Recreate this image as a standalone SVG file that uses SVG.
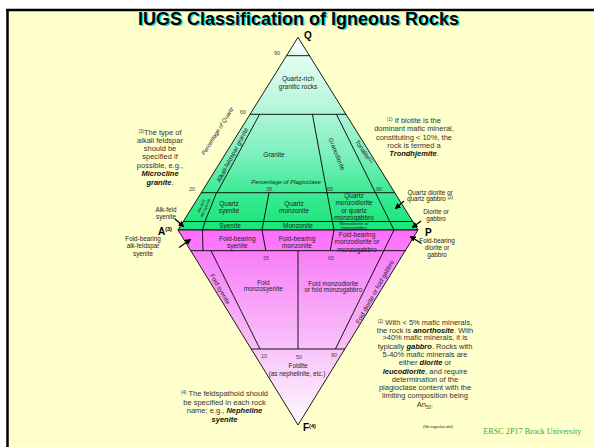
<svg xmlns="http://www.w3.org/2000/svg" width="594" height="447" viewBox="0 0 594 447">
<defs>
<linearGradient id="gq" x1="0" y1="37" x2="0" y2="230" gradientUnits="userSpaceOnUse">
<stop offset="0" stop-color="#f6fffc"/>
<stop offset="0.35" stop-color="#b8f6dc"/>
<stop offset="0.6" stop-color="#7ef0bf"/>
<stop offset="0.8" stop-color="#3eea94"/>
<stop offset="1" stop-color="#16e679"/>
</linearGradient>
<linearGradient id="gf" x1="0" y1="230" x2="0" y2="425" gradientUnits="userSpaceOnUse">
<stop offset="0" stop-color="#ff6cff"/>
<stop offset="0.15" stop-color="#f884f8"/>
<stop offset="0.6" stop-color="#f8c2f8"/>
<stop offset="1" stop-color="#fffaff"/>
</linearGradient>
<marker id="ah" markerWidth="6" markerHeight="6" refX="5" refY="3" orient="auto" markerUnits="userSpaceOnUse">
<path d="M0,0 L6,3 L0,6 z" fill="#000"/>
</marker>
</defs>
<style>
text{font-family:"Liberation Sans",Arial,sans-serif;fill:#222}
.l{font-size:6.5px;text-anchor:middle}
.m{font-size:6.3px;text-anchor:middle}
.n{font-size:7.5px;fill:#333;text-anchor:middle}
.s{font-size:5.5px;fill:#444;text-anchor:middle}
.t{font-size:4.2px;text-anchor:middle}
.v{font-size:10px;font-weight:bold;fill:#000}
.sup{font-size:4.5px}
.bi{font-weight:bold;font-style:italic;fill:#111}
.ln{stroke:#000;stroke-width:0.9;fill:none}
.ar{stroke:#000;stroke-width:1.3;fill:none;marker-end:url(#ah)}
</style>
<rect x="0" y="0" width="594" height="447" fill="#ffffff"/>
<rect x="7" y="9" width="587" height="438" fill="#ffffcc"/>
<path d="M6,10 H594 M7.5,9 V447" stroke="#000" stroke-width="2.5" fill="none"/>

<g id="title">
<text x="299.7" y="25.6" font-size="18" font-weight="bold" text-anchor="middle" style="fill:#00dede">IUGS Classification of Igneous Rocks</text>
<text x="298.5" y="24.5" font-size="18" font-weight="bold" text-anchor="middle" style="fill:#000">IUGS Classification of Igneous Rocks</text>
</g>

<g id="qap-triangle">
<polygon points="298,37.3 418,230 178,230" fill="url(#gq)" stroke="#000" stroke-width="0.9"/>
</g>
<g id="apf-triangle">
<polygon points="178,230 418,230 298,425" fill="url(#gf)" stroke="#000" stroke-width="0.9"/>
</g>

<g id="connectors">
<path class="ln" d="M286.5,55.7 H309.5 M250,114.3 H346 M201.2,192.7 H394.8 M183.3,221.5 H412.7 M190.7,250.7 H405.3 M251.2,349 H344.8"/>
<path class="ln" d="M259.6,114.3 L217,192.7 M216.5,192.7 L205,221.5 L202.5,230 L203,250.7 M211,250.7 L260,349"/>
<path class="ln" d="M269,192.7 L262,230 L265.8,250.7"/>
<path class="ln" d="M312.4,114.3 L334,230 L330.2,250.7"/>
<path class="ln" d="M336.4,114.3 L394,230 L335.4,349"/>
<path class="ln" d="M298,250.7 V349"/>
<path class="ar" d="M175,219 L183.5,226.5"/>
<path class="ar" d="M179,247.5 L190.5,239.5"/>
<path class="ar" d="M404,201 L395.5,208.5"/>
<path class="ar" d="M421,221 L412.5,227.5"/>
<path class="ar" d="M421.5,243.5 L410.5,236.5"/>
</g>

<g id="corner-labels">
<text class="v" x="308" y="38.5" text-anchor="middle">Q</text>
<text class="v" x="158" y="234.5">A<tspan font-size="5.5" dy="-3.5">(3)</tspan></text>
<text class="v" x="428.3" y="235.5" text-anchor="middle">P</text>
<text class="v" x="303" y="430.5">F<tspan font-size="5.5" dy="-3">(4)</tspan></text>
</g>

<g id="scale-labels">
<text class="s" x="277" y="55">90</text>
<text class="s" x="243" y="114">60</text>
<text class="s" x="192" y="191">20</text>
<text class="s" x="269" y="190.5">35</text>
<text class="s" x="330" y="190.5">65</text>
<text class="s" x="379" y="190.5">90</text>
<text class="s" x="266" y="259.5">35</text>
<text class="s" x="331" y="259.5">65</text>
<text class="s" x="264" y="358">10</text>
<text class="s" x="299" y="359">50</text>
<text class="s" x="334" y="357">90</text>
<text x="286" y="183.5" font-size="6" font-style="italic" text-anchor="middle">Percentage of Plagioclase</text>
<text transform="translate(217.5,131) rotate(-58)" font-size="5.8" font-style="italic" text-anchor="middle" y="2">Percentage of Quartz</text>
</g>

<g id="quartz-rich"><text class="l" x="298" y="80.5">Quartz-rich</text><text class="l" x="298" y="88.5">granitic rocks</text></g>
<g id="alkali-feldspar-granite"><text class="m" transform="translate(232.5,155) rotate(-62)" y="2">Alkali-feldspar granite</text></g>
<g id="granite"><text class="l" x="274" y="156.5">Granite</text></g>
<g id="granodiorite"><text class="m" transform="translate(336.7,154) rotate(68)" y="2">Granodiorite</text></g>
<g id="tonalite"><text class="m" transform="translate(364,152) rotate(56)" y="2">Tonalite<tspan class="sup" dy="-2">(1)</tspan></text></g>

<g id="alk-feld-qtz-syenite"><text class="t" transform="translate(203.5,207) rotate(-66)"><tspan x="0" y="-1">Alk-feld</tspan><tspan x="0" y="3.5">qtz syenite</tspan></text></g>
<g id="quartz-syenite"><text class="l" x="229" y="205.6">Quartz</text><text class="l" x="229" y="213">syenite</text></g>
<g id="quartz-monzonite"><text class="l" x="294" y="205.6">Quartz</text><text class="l" x="294" y="213">monzonite</text></g>
<g id="quartz-monzodiorite"><text class="l" x="354" y="198">Quartz</text><text class="l" x="354" y="205.2">monzodiorite</text><text class="l" x="354" y="212.8">or quartz</text><text class="l" x="354" y="220">monzogabbro</text></g>

<g id="syenite"><text class="l" x="230" y="227.8">Syenite</text></g>
<g id="monzonite"><text class="l" x="298" y="227.8">Monzonite</text></g>
<g id="monzodiorite"><text class="t" x="354" y="225.4">Monzodiorite or</text><text class="t" x="354" y="229.2">monzogabbro</text></g>

<g id="foid-bearing-syenite"><text class="l" x="237.3" y="240.6">Foid-bearing</text><text class="l" x="237.3" y="248.3">syenite</text></g>
<g id="foid-bearing-monzonite"><text class="l" x="297" y="240.6">Foid-bearing</text><text class="l" x="297" y="248.3">monzonite</text></g>
<g id="foid-bearing-monzodiorite"><text class="l" x="357" y="236.6">Foid-bearing</text><text class="l" x="357" y="244.3">monzodiorite or</text><text class="l" x="357" y="251.6">monzogabbro</text></g>

<g id="foid-syenite"><text class="m" transform="translate(220,289) rotate(60)" y="2">Foid syenite</text></g>
<g id="foid-monzosyenite"><text class="m" x="263.3" y="284.6">Foid</text><text class="m" x="263.3" y="291.3">monzosyenite</text></g>
<g id="foid-monzodiorite"><text class="m" x="333.3" y="285.6">Foid monzodiorite</text><text class="m" x="333.3" y="292.3">or foid monzogabbro</text></g>
<g id="foid-diorite"><text class="m" transform="translate(375,292) rotate(-61)" y="2">Foid diorite or foid gabbro</text></g>
<g id="foidite"><text class="m" x="298" y="367.5">Foidite</text><text class="m" x="297" y="375.5">(as nephelinite, etc.)</text></g>

<g id="alk-feld-syenite"><text class="m" x="166" y="211.5">Alk-feld</text><text class="m" x="166" y="219">syenite</text></g>
<g id="foid-bearing-alk-feldspar-syenite"><text class="m" x="143" y="240.5">Foid-bearing</text><text class="m" x="143" y="248">alk-feldspar</text><text class="m" x="143" y="255.5">syenite</text></g>
<g id="quartz-diorite"><text class="m" x="430" y="194.7">Quartz diorite or</text><text class="m" x="430" y="201.3">quartz gabbro <tspan class="sup" dy="-2">(2)</tspan></text></g>
<g id="diorite"><text class="m" x="436" y="214">Diorite or</text><text class="m" x="436" y="220.6">gabbro</text></g>
<g id="foid-bearing-diorite"><text class="m" x="437" y="243">Foid-bearing</text><text class="m" x="437" y="250">diorite or</text><text class="m" x="437" y="257">gabbro</text></g>

<g id="note-1">
<text class="n" x="414" y="122.5"><tspan class="sup" dy="-2">(1)</tspan><tspan dy="2"> If biotite is the</tspan></text>
<text class="n" x="414" y="131">dominant mafic mineral,</text>
<text class="n" x="414" y="139.5">constituting &lt; 10%, the</text>
<text class="n" x="414" y="148">rock is termed a</text>
<text class="n" x="414" y="156"><tspan class="bi">Trondhjemite</tspan>.</text>
</g>
<g id="note-3">
<text class="n" x="160" y="135.2"><tspan class="sup" dy="-2">(3)</tspan><tspan dy="2">The type of</tspan></text>
<text class="n" x="160" y="143.3">alkali feldspar</text>
<text class="n" x="160" y="151">should be</text>
<text class="n" x="160" y="159.3">specified if</text>
<text class="n" x="160" y="167.6">possible, e.g.,</text>
<text class="n" x="160" y="176"><tspan class="bi">Microcline</tspan></text>
<text class="n" x="160" y="184.8"><tspan class="bi">granite</tspan>.</text>
</g>
<g id="note-2">
<text class="n" x="425" y="324.8"><tspan class="sup" dy="-2">(2)</tspan><tspan dy="2"> With &lt; 5% mafic minerals,</tspan></text>
<text class="n" x="425" y="332.7">the rock is <tspan class="bi">anorthosite</tspan>. With</text>
<text class="n" x="425" y="340.4">&gt;40% mafic minerals, it is</text>
<text class="n" x="425" y="348.7">typically <tspan class="bi">gabbro</tspan>. Rocks with</text>
<text class="n" x="425" y="357">5-40% mafic minerals are</text>
<text class="n" x="425" y="365.4">either <tspan class="bi">diorite</tspan> or</text>
<text class="n" x="425" y="373.7"><tspan class="bi">leucodiorite</tspan>, and require</text>
<text class="n" x="425" y="382">determination of the</text>
<text class="n" x="425" y="390">plagioclase content with the</text>
<text class="n" x="425" y="398.4">limiting composition being</text>
<text class="n" x="425" y="407">An<tspan font-size="4.5" dy="1.5">50</tspan><tspan dy="-1.5">.</tspan></text>
</g>
<g id="note-4">
<text class="n" x="224.5" y="396"><tspan class="sup" dy="-2">(4)</tspan><tspan dy="2"> The feldspathoid should</tspan></text>
<text class="n" x="224.5" y="405">be specified in each rock</text>
<text class="n" x="224.5" y="413.4">name; e.g., <tspan class="bi">Nepheline</tspan></text>
<text class="n" x="224.5" y="421.7"><tspan class="bi">syenite</tspan></text>
</g>
<g id="footer">
<text x="438" y="428" font-size="4" text-anchor="middle">(file:iugsclas.dxf)</text>
<text x="483.3" y="433.5" font-size="8.2" style="font-family:'Liberation Serif','Times New Roman',serif;fill:#3aaa3a">ERSC 2P17 Brock University</text>
</g>
</svg>
